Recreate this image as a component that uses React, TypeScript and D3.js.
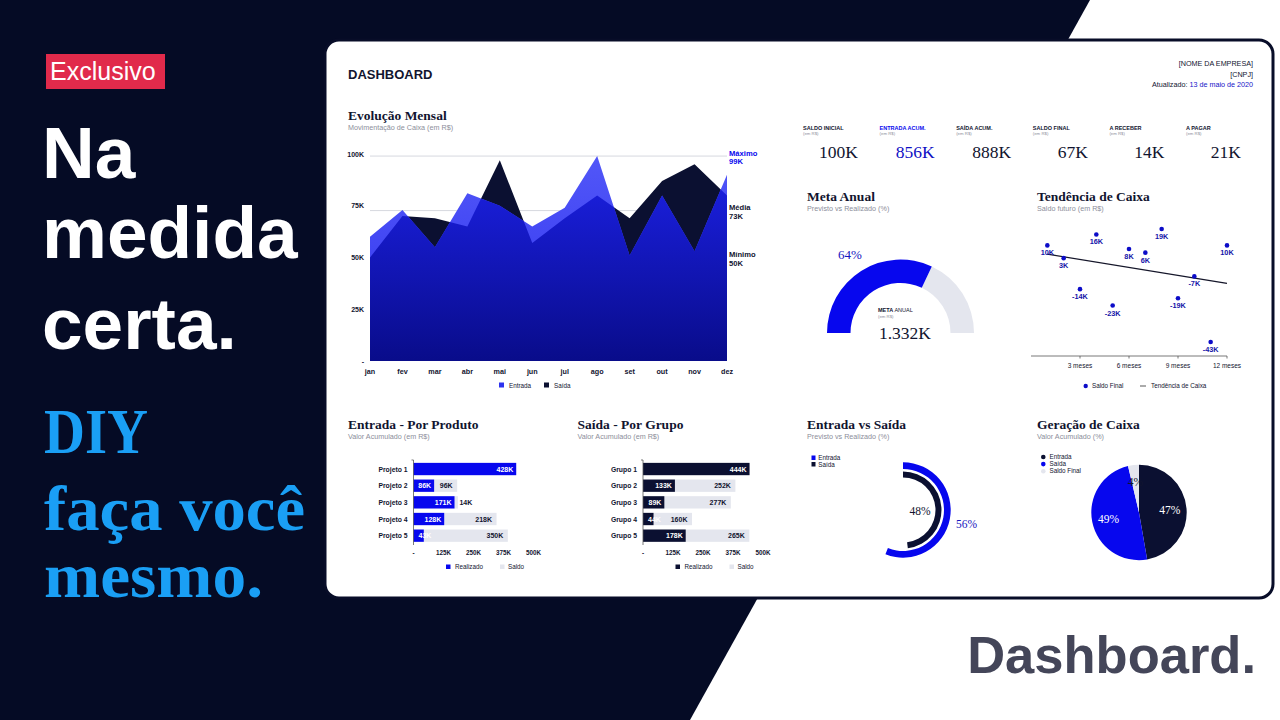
import * as d3 from 'd3';

const SANS = '"Liberation Sans", Arial, Helvetica, sans-serif';
const SERIF = '"Liberation Serif", "Times New Roman", serif';
const BG = '#050b25';
const NAVY = '#0b1031';
const BLUE = '#0707ee';
const TRACK = '#e4e6ee';
const INK = '#11142f';
const MUTED = '#8c8e9a';

// monthly cash flow, in thousands
const months = ['jan', 'fev', 'mar', 'abr', 'mai', 'jun', 'jul', 'ago', 'set', 'out', 'nov', 'dez'];
const entradaMensal = [60, 73, 55, 81, 75, 65, 74, 99, 51, 80, 53, 90];
const saidaMensal = [50, 70, 69, 65, 97, 57, 69, 80, 69, 87, 95, 80];
const mensalTicks = [0, 25, 50, 75, 100];

const kpiLabels = ['SALDO INICIAL', 'ENTRADA ACUM.', 'SAÍDA ACUM.', 'SALDO FINAL', 'A RECEBER', 'A PAGAR'];
const kpiValues = [100, 856, 888, 67, 14, 21];

const metaRealizado = 0.64;
const metaAnualLabel = '1.332K';

const tendenciaMeses = [1, 2, 3, 4, 5, 6, 7, 8, 9, 10, 11, 12];
const tendenciaSaldo = [10, 3, -14, 16, -23, 8, 6, 19, -19, -7, -43, 10];
const tendenciaTicks = [3, 6, 9, 12];

const produtos = ['Projeto 1', 'Projeto 2', 'Projeto 3', 'Projeto 4', 'Projeto 5'];
const produtoRealizado = [428, 86, 171, 128, 43];
const produtoSaldo = [0, 96, 14, 218, 350];
const grupos = ['Grupo 1', 'Grupo 2', 'Grupo 3', 'Grupo 4', 'Grupo 5'];
const grupoRealizado = [444, 133, 89, 44, 178];
const grupoSaldo = [0, 252, 277, 160, 265];
const barTicks = [0, 125, 250, 375, 500];

const fluxoSeries = ['Entrada', 'Saída'];
const fluxoPercent = [56, 48];

const geracaoSeries = ['Entrada', 'Saída', 'Saldo Final'];
const geracaoValores = [856, 888, 67];

const fmtK = (v: number) => (v === 0 ? '-' : `${Math.round(v)}K`);

function Title({ x, y, title, subtitle }: { x: number; y: number; title: string; subtitle: string }) {
  return (
    <g>
      <text x={x} y={y} fontFamily={SERIF} fontWeight={700} fontSize={13.5} fill={INK}>{title}</text>
      <text x={x} y={y + 10} fontFamily={SANS} fontSize={7.2} fill={MUTED}>{subtitle}</text>
    </g>
  );
}

function EvolucaoMensal() {
  const x = d3.scalePoint<string>().domain(months).range([370, 727]);
  const y = d3.scaleLinear().domain([0, 100]).range([361, 154]);
  const area = d3.area<number>()
    .x((_, i) => x(months[i])!)
    .y0(y(0))
    .y1((d) => y(d));
  const all = [...entradaMensal, ...saidaMensal];
  const max = d3.max(all)!;
  const min = d3.min(all)!;
  const mean = d3.mean(all)!;
  const refs = [
    { label: 'Máximo', v: max, color: BLUE },
    { label: 'Média', v: mean, color: INK },
    { label: 'Mínimo', v: min, color: INK },
  ];
  return (
    <g>
      <defs>
        <linearGradient id="entradaFill" x1="0" y1={y(100)} x2="0" y2={y(0)} gradientUnits="userSpaceOnUse">
          <stop offset="0" stopColor="#5257f8" />
          <stop offset="1" stopColor="#2e33ee" />
        </linearGradient>
        <linearGradient id="overlapFill" x1="0" y1={y(100)} x2="0" y2={y(0)} gradientUnits="userSpaceOnUse">
          <stop offset="0" stopColor="#1d22ea" />
          <stop offset="1" stopColor="#090c8a" />
        </linearGradient>
        <clipPath id="saidaClip">
          <path d={area(saidaMensal)!} />
        </clipPath>
      </defs>
      <Title x={348} y={120} title="Evolução Mensal" subtitle="Movimentação de Caixa (em R$)" />
      {refs.map((r) => (
        <line key={r.label} x1={370} x2={727} y1={y(r.v)} y2={y(r.v)} stroke="#d6d8df" strokeWidth={1} />
      ))}
      <path d={area(saidaMensal)!} fill={NAVY} />
      <path d={area(entradaMensal)!} fill="url(#entradaFill)" />
      <path d={area(entradaMensal)!} fill="url(#overlapFill)" clipPath="url(#saidaClip)" />
      {mensalTicks.map((t) => (
        <text key={t} x={364} y={y(t) + 2.5} textAnchor="end" fontFamily={SANS} fontWeight={700} fontSize={7} fill={INK}>
          {fmtK(t)}
        </text>
      ))}
      {months.map((m) => (
        <text key={m} x={x(m)} y={374} textAnchor="middle" fontFamily={SANS} fontWeight={700} fontSize={7.2} fill={INK}>{m}</text>
      ))}
      {refs.map((r) => (
        <g key={r.label} fontFamily={SANS} fontWeight={700} fontSize={7.6} fill={r.color}>
          <text x={729} y={y(r.v) - 0.5}>{r.label}</text>
          <text x={729} y={y(r.v) + 8}>{fmtK(r.v)}</text>
        </g>
      ))}
      <g fontFamily={SANS} fontSize={6.3} fill={INK}>
        <rect x={499} y={382.5} width={5} height={5} fill="url(#entradaFill)" />
        <text x={509} y={387.5}>Entrada</text>
        <rect x={544} y={382.5} width={5} height={5} fill={NAVY} />
        <text x={554} y={387.5}>Saída</text>
      </g>
    </g>
  );
}

function Kpis() {
  const x = d3.scaleLinear().domain([0, kpiLabels.length - 1]).range([803, 1186]);
  return (
    <g>
      {kpiLabels.map((label, i) => {
        const color = i === 1 ? BLUE : INK;
        return (
          <g key={label}>
            <text x={x(i)} y={129.5} fontFamily={SANS} fontWeight={700} fontSize={5.5} fill={color}>{label}</text>
            <text x={x(i)} y={134.5} fontFamily={SANS} fontSize={4.3} fill={MUTED}>(em R$)</text>
            <text x={x(i) + 55} y={157.5} textAnchor="end" fontFamily={SERIF} fontSize={17.5} fill={i === 1 ? '#1010c4' : INK}>
              {`${kpiValues[i]}K`}
            </text>
          </g>
        );
      })}
    </g>
  );
}

function MetaAnual() {
  const cx = 900.5;
  const cy = 333;
  const arc = d3.arc<{ s: number; e: number }>()
    .innerRadius(50)
    .outerRadius(73.5)
    .startAngle((d) => d.s)
    .endAngle((d) => d.e);
  const split = -Math.PI / 2 + Math.PI * metaRealizado;
  return (
    <g>
      <Title x={807} y={201} title="Meta Anual" subtitle="Previsto vs Realizado (%)" />
      <g transform={`translate(${cx},${cy})`}>
        <path d={arc({ s: split, e: Math.PI / 2 })!} fill={TRACK} />
        <path d={arc({ s: -Math.PI / 2, e: split })!} fill={BLUE} />
      </g>
      <text x={838} y={259} fontFamily={SERIF} fontSize={13} fill="#1515c0">{`${Math.round(metaRealizado * 100)}%`}</text>
      <text x={878} y={312} fontFamily={SANS} fontSize={5.5} fill={INK}>
        <tspan fontWeight={700}>META</tspan> ANUAL
      </text>
      <text x={878} y={317.5} fontFamily={SANS} fontSize={4.3} fill={MUTED}>(em R$)</text>
      <text x={905} y={339} textAnchor="middle" fontFamily={SERIF} fontSize={17.5} fill={INK}>{metaAnualLabel}</text>
    </g>
  );
}

function TendenciaCaixa() {
  const x = d3.scaleLinear().domain([0, 12]).range([1031, 1227]);
  const y = d3.scaleLinear().domain([-50, 30]).range([354.8, 208.9]);
  const mx = d3.mean(tendenciaMeses)!;
  const my = d3.mean(tendenciaSaldo)!;
  const slope =
    d3.sum(tendenciaMeses, (m, i) => (m - mx) * (tendenciaSaldo[i] - my)) /
    d3.sum(tendenciaMeses, (m) => (m - mx) ** 2);
  const fit = (m: number) => my + slope * (m - mx);
  const first = tendenciaMeses[0];
  const last = tendenciaMeses[tendenciaMeses.length - 1];
  return (
    <g>
      <Title x={1037} y={201} title="Tendência de Caixa" subtitle="Saldo futuro (em R$)" />
      <line x1={x(0)} x2={x(12)} y1={356} y2={356} stroke="#555" strokeWidth={0.8} />
      {tendenciaTicks.map((t) => (
        <g key={t}>
          <line x1={x(t)} x2={x(t)} y1={356} y2={358.5} stroke="#555" strokeWidth={0.8} />
          <text x={x(t)} y={367.5} textAnchor="middle" fontFamily={SANS} fontSize={6.5} fill={INK}>{`${t} meses`}</text>
        </g>
      ))}
      <line x1={x(first)} x2={x(last)} y1={y(fit(first))} y2={y(fit(last))} stroke="#15162a" strokeWidth={1.3} />
      {tendenciaMeses.map((m, i) => (
        <g key={m}>
          <circle cx={x(m)} cy={y(tendenciaSaldo[i])} r={2.3} fill="#0c0cc8" />
          <text x={x(m)} y={y(tendenciaSaldo[i]) + 10} textAnchor="middle" fontFamily={SANS} fontWeight={700} fontSize={7.3} fill="#1414a8">
            {`${tendenciaSaldo[i]}K`}
          </text>
        </g>
      ))}
      <g fontFamily={SANS} fontSize={6.3} fill={INK}>
        <circle cx={1085.7} cy={386} r={2.2} fill="#0c0cc8" />
        <text x={1092} y={388.3}>Saldo Final</text>
        <line x1={1140} x2={1146} y1={386} y2={386} stroke="#444" strokeWidth={0.9} />
        <text x={1151} y={388.3}>Tendência de Caixa</text>
      </g>
    </g>
  );
}

function BarPanel(props: {
  left: number;
  title: string;
  cats: string[];
  realizado: number[];
  saldo: number[];
  fill: string;
}) {
  const { left, title, cats, realizado, saldo, fill } = props;
  const axisX = left + 65.5;
  const x = d3.scaleLinear().domain([0, 500]).range([axisX, axisX + 120]);
  const y = d3.scaleBand<string>().domain(cats).range([460.7, 544]).paddingInner(0.26).paddingOuter(0.13);
  const fs = 7;
  const textW = (s: string) => s.length * fs * 0.6;
  return (
    <g>
      <Title x={left} y={429} title={title} subtitle="Valor Acumulado (em R$)" />
      {cats.map((c, i) => {
        const y0 = y(c)!;
        const h = y.bandwidth();
        const mid = y0 + h / 2 + 2.5;
        const r0 = x(0);
        const r1 = x(realizado[i]);
        const s1 = x(realizado[i] + saldo[i]);
        const rl = fmtK(realizado[i]);
        const sl = fmtK(saldo[i]);
        const rFits = textW(rl) + 7 < r1 - r0;
        const sFits = textW(sl) + 7 < s1 - r1;
        return (
          <g key={c} fontFamily={SANS} fontWeight={700} fontSize={fs}>
            <text x={axisX - 6} y={mid} textAnchor="end" fontSize={6.8} fill={INK}>{c}</text>
            {saldo[i] > 0 && <rect x={r1} y={y0} width={s1 - r1} height={h} fill={TRACK} />}
            <rect x={r0} y={y0} width={r1 - r0} height={h} fill={fill} />
            {saldo[i] > 0 && (
              <text x={sFits ? s1 - 4.5 : s1 + 1.5} y={mid} textAnchor={sFits ? 'end' : 'start'} fill={INK}>{sl}</text>
            )}
            <text x={rFits ? r1 - 3 : r0 + 5} y={mid} textAnchor={rFits ? 'end' : 'start'} fill="#ffffff">{rl}</text>
          </g>
        );
      })}
      <line x1={axisX} x2={axisX} y1={460} y2={545} stroke="#555" strokeWidth={0.8} />
      <line x1={axisX - 2} x2={axisX} y1={460} y2={460} stroke="#555" strokeWidth={0.8} />
      {barTicks.map((t) => (
        <text key={t} x={x(t)} y={555} textAnchor="middle" fontFamily={SANS} fontWeight={700} fontSize={6.3} fill={INK}>
          {fmtK(t)}
        </text>
      ))}
      <g fontFamily={SANS} fontSize={6.3} fill={INK}>
        <rect x={left + 98} y={564.5} width={4.5} height={4.5} fill={fill} />
        <text x={left + 107} y={569}>Realizado</text>
        <rect x={left + 152} y={564.5} width={4.5} height={4.5} fill={TRACK} />
        <text x={left + 160} y={569}>Saldo</text>
      </g>
    </g>
  );
}

function EntradaVsSaida() {
  const cx = 903;
  const cy = 510;
  const rings = [
    { inner: 41, outer: 47.7, color: BLUE },
    { inner: 32.5, outer: 38.5, color: NAVY },
  ];
  const arc = d3.arc<{ r0: number; r1: number; e: number }>()
    .innerRadius((d) => d.r0)
    .outerRadius((d) => d.r1)
    .startAngle(0)
    .endAngle((d) => d.e);
  return (
    <g>
      <Title x={807} y={429} title="Entrada vs Saída" subtitle="Previsto vs Realizado (%)" />
      {fluxoSeries.map((s, i) => (
        <g key={s} fontFamily={SANS} fontSize={6.3} fill={INK}>
          <rect x={811.5} y={455.5 + i * 6.5} width={4} height={4.5} fill={rings[i].color} />
          <text x={818.3} y={460 + i * 6.5}>{s}</text>
        </g>
      ))}
      <g transform={`translate(${cx},${cy})`}>
        {fluxoPercent.map((p, i) => (
          <path key={i} d={arc({ r0: rings[i].inner, r1: rings[i].outer, e: (2 * Math.PI * p) / 100 })!} fill={rings[i].color} />
        ))}
      </g>
      <text x={920} y={515} textAnchor="middle" fontFamily={SERIF} fontSize={11.5} fill={INK}>{`${fluxoPercent[1]}%`}</text>
      <text x={966.5} y={528} textAnchor="middle" fontFamily={SERIF} fontSize={11.5} fill="#1515c0">{`${fluxoPercent[0]}%`}</text>
    </g>
  );
}

function GeracaoCaixa() {
  const cx = 1139;
  const cy = 512.5;
  const r = 47.7;
  const colors = [NAVY, BLUE, TRACK];
  const labelColors = ['#ffffff', '#ffffff', INK];
  const total = d3.sum(geracaoValores);
  const arcs = d3.pie<number>().sort(null)(geracaoValores);
  const arc = d3.arc<d3.PieArcDatum<number>>().innerRadius(0).outerRadius(r);
  const labelArc = d3.arc<d3.PieArcDatum<number>>().innerRadius(r * 0.65).outerRadius(r * 0.65);
  return (
    <g>
      <Title x={1037} y={429} title="Geração de Caixa" subtitle="Valor Acumulado (%)" />
      {geracaoSeries.map((s, i) => (
        <g key={s} fontFamily={SANS} fontSize={6.3} fill={INK}>
          <circle cx={1043.3} cy={457 + i * 7.1} r={2.3} fill={colors[i]} />
          <text x={1049.5} y={459.2 + i * 7.1}>{s}</text>
        </g>
      ))}
      <g transform={`translate(${cx},${cy})`}>
        {arcs.map((a, i) => (
          <path key={i} d={arc(a)!} fill={colors[i]} />
        ))}
        {arcs.map((a, i) => {
          const [lx, ly] = labelArc.centroid(a);
          return (
            <text key={i} x={lx} y={ly + 4} textAnchor="middle" fontFamily={SERIF} fontSize={11.5} fill={labelColors[i]}>
              {`${Math.round((a.value / total) * 100)}%`}
            </text>
          );
        })}
      </g>
    </g>
  );
}

export default function App() {
  return (
    <svg width={1280} height={720} viewBox="0 0 1280 720" style={{ position: 'absolute', left: 0, top: 0, display: 'block' }}>
      <rect width={1280} height={720} fill={BG} />
      <polygon points="1090,0 1280,0 1280,720 690,720" fill="#ffffff" />

      <rect x={46} y={54} width={119} height={35} fill="#e12a4b" />
      <text x={50} y={80} fontFamily={SANS} fontSize={25} fill="#ffffff">Exclusivo</text>
      <g fontFamily={SANS} fontWeight={700} fontSize={73} fill="#ffffff">
        <text x={42} y={178}>Na</text>
        <text x={42} y={258}>medida</text>
        <text x={42} y={349}>certa.</text>
      </g>
      <g fontFamily={SERIF} fontWeight={700} fontSize={64} fill="#1a9ff5">
        <text x={44} y={453} textLength={104} lengthAdjust="spacingAndGlyphs">DIY</text>
        <text x={44} y={530} textLength={261} lengthAdjust="spacingAndGlyphs">faça você</text>
        <text x={44} y={597} textLength={219} lengthAdjust="spacingAndGlyphs">mesmo.</text>
      </g>
      <text x={1256} y={673} textAnchor="end" fontFamily={SANS} fontWeight={700} fontSize={52.5} fill="#444659">Dashboard.</text>

      <rect x={325} y={40} width={948} height={558} rx={14} fill="#ffffff" stroke="#080d28" strokeWidth={3} />

      <text x={348} y={79} fontFamily={SANS} fontWeight={700} fontSize={13} fill={INK}>DASHBOARD</text>
      <g fontFamily={SANS} fontSize={7.2} fill={INK} textAnchor="end">
        <text x={1253} y={66}>[NOME DA EMPRESA]</text>
        <text x={1253} y={76.5}>[CNPJ]</text>
        <text x={1253} y={87}>
          Atualizado: <tspan fill="#1515c8">13 de maio de 2020</tspan>
        </text>
      </g>

      <EvolucaoMensal />
      <Kpis />
      <MetaAnual />
      <TendenciaCaixa />
      <BarPanel left={348} title="Entrada - Por Produto" cats={produtos} realizado={produtoRealizado} saldo={produtoSaldo} fill={BLUE} />
      <BarPanel left={577.5} title="Saída - Por Grupo" cats={grupos} realizado={grupoRealizado} saldo={grupoSaldo} fill={NAVY} />
      <EntradaVsSaida />
      <GeracaoCaixa />
    </svg>
  );
}
